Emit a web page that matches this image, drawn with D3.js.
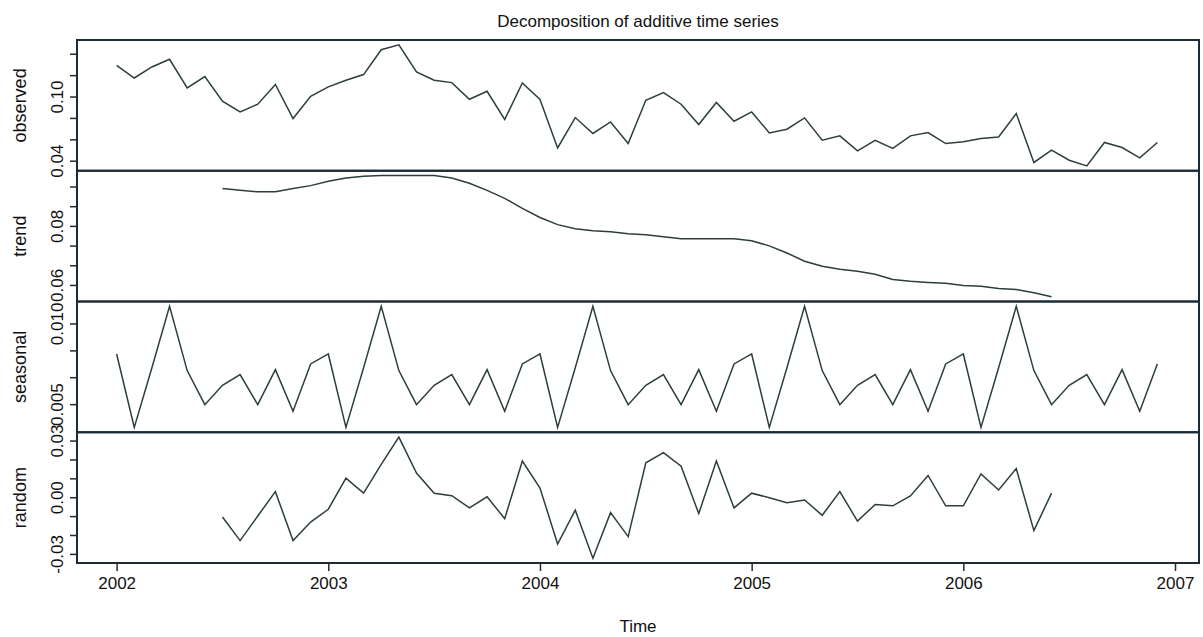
<!DOCTYPE html>
<html>
<head>
<meta charset="utf-8">
<script src="https://cdn.jsdelivr.net/npm/d3@7"></script>
<style>
  body { margin: 0; background: #fff; }
  svg text { font-family: "Liberation Sans", Arial, sans-serif; fill: #111; }
  .series { fill: none; stroke: #2c3e3e; stroke-width: 1.5; }
  .frame { fill: none; stroke: #1d2b36; stroke-width: 2; }
  .axis path { display: none; }
  .axis line { stroke: #1d2b36; stroke-width: 1.5; }
</style>
</head>
<body>
<svg id="chart" width="1203" height="637"></svg>
<script>
// monthly series, Jan 2002 .. Dec 2006
var startYear = 2002, freq = 12;
var yearTicks = [2002, 2003, 2004, 2005, 2006, 2007];

var observed = [
  0.1297, 0.1178, 0.1281, 0.1353, 0.1085, 0.1192, 0.0961, 0.0861, 0.0933, 0.1117, 0.0799, 0.1007,
  0.1095, 0.1157, 0.1210, 0.1442, 0.1488, 0.1235, 0.1157, 0.1135, 0.0979, 0.1054, 0.0790, 0.1132,
  0.0977, 0.0524, 0.0808, 0.0659, 0.0767, 0.0565, 0.0970, 0.1042, 0.0933, 0.0743, 0.0949, 0.0774,
  0.0861, 0.0665, 0.0699, 0.0805, 0.0596, 0.0637, 0.0496, 0.0596, 0.0519, 0.0637, 0.0668, 0.0565,
  0.0581, 0.0612, 0.0627, 0.0846, 0.0388, 0.0503, 0.0409, 0.0356, 0.0575, 0.0528, 0.0431, 0.0575
];
var trend = [
  null, null, null, null, null, null, 0.0928, 0.0922, 0.0917, 0.0917, 0.0928, 0.0938,
  0.0953, 0.0964, 0.0970, 0.0972, 0.0972, 0.0972, 0.0972, 0.0964, 0.0946, 0.0922, 0.0895, 0.0861,
  0.0830, 0.0806, 0.0792, 0.0785, 0.0782, 0.0775, 0.0772, 0.0765, 0.0758, 0.0758, 0.0758, 0.0758,
  0.0751, 0.0734, 0.0710, 0.0682, 0.0665, 0.0655, 0.0648, 0.0638, 0.0620, 0.0614, 0.0610, 0.0607,
  0.0600, 0.0597, 0.0590, 0.0586, 0.0575, 0.0562, null, null, null, null, null, null
];
var seasonal = [
  0.00814, 0.00359, 0.00729, 0.01109, 0.00711, 0.00500, 0.00620, 0.00686, 0.00500, 0.00717, 0.00459, 0.00752,
  0.00814, 0.00359, 0.00729, 0.01109, 0.00711, 0.00500, 0.00620, 0.00686, 0.00500, 0.00717, 0.00459, 0.00752,
  0.00814, 0.00359, 0.00729, 0.01109, 0.00711, 0.00500, 0.00620, 0.00686, 0.00500, 0.00717, 0.00459, 0.00752,
  0.00814, 0.00359, 0.00729, 0.01109, 0.00711, 0.00500, 0.00620, 0.00686, 0.00500, 0.00717, 0.00459, 0.00752,
  0.00814, 0.00359, 0.00729, 0.01109, 0.00711, 0.00500, 0.00620, 0.00686, 0.00500, 0.00717, 0.00459, 0.00752
];
var random = [
  null, null, null, null, null, null, -0.0102, -0.0227, -0.0097, 0.0032, -0.0227, -0.0129,
  -0.0061, 0.0104, 0.0024, 0.0176, 0.0321, 0.0131, 0.0024, 0.0011, -0.0054, 0.0005, -0.0111, 0.0194,
  0.0051, -0.0245, -0.0066, -0.0320, -0.0079, -0.0206, 0.0185, 0.0239, 0.0167, -0.0084, 0.0194, -0.0054,
  0.0024, 0.0000, -0.0027, -0.0012, -0.0093, 0.0032, -0.0124, -0.0036, -0.0043, 0.0009, 0.0118, -0.0043,
  -0.0043, 0.0126, 0.0041, 0.0154, -0.0174, 0.0024, null, null, null, null, null, null
];

// tick values per panel, and which of them get a label
var obsTicks = [0.04, 0.06, 0.08, 0.10, 0.12, 0.14],   obsLabels = ["0.04", "0.10"];
var trendTicks = [0.06, 0.06667, 0.07333, 0.08, 0.08667, 0.09333], trendLabels = ["0.06", "0.08"];
var seasTicks = [0.005, 0.00667, 0.00833, 0.010],      seasLabels = ["0.005", "0.010"];
var randTicks = [-0.03, -0.02, -0.01, 0.00, 0.01, 0.02, 0.03], randLabels = ["-0.03", "0.00", "0.03"];

function fmtR(spec) {
  // d3 gives a unicode minus, R prints a plain hyphen
  var f = d3.format(spec);
  return function(v) { return f(v).replace("\u2212", "-"); };
}

function drawChart() {
  var panels = [
    {name: "observed", values: observed, ticks: obsTicks,   labels: obsLabels,   fmt: fmtR(".2f")},
    {name: "trend",    values: trend,    ticks: trendTicks, labels: trendLabels, fmt: fmtR(".2f")},
    {name: "seasonal", values: seasonal, ticks: seasTicks,  labels: seasLabels,  fmt: fmtR(".3f")},
    {name: "random",   values: random,   ticks: randTicks,  labels: randLabels,  fmt: fmtR(".2f")}
  ];

  var svg = d3.select("#chart");
  var m = {left: 77, right: 1199, top: 40, bottom: 563};
  var ph = (m.bottom - m.top) / panels.length;

  // R style 4% padding on each side
  function pad(ext) {
    var r = ext[1] - ext[0];
    return [ext[0] - 0.04 * r, ext[1] + 0.04 * r];
  }

  var times = observed.map(function(d, i) { return startYear + i / freq; });
  var x = d3.scaleLinear().domain(pad(d3.extent(times))).range([m.left - 2, m.right]);

  svg.append("text")
    .attr("x", (m.left + m.right) / 2).attr("y", 27)
    .attr("text-anchor", "middle")
    .style("font-size", "17px")
    .text("Decomposition of additive time series");

  panels.forEach(function(p, k) {
    var y0 = m.top + k * ph, y1 = y0 + ph;
    var y = d3.scaleLinear()
      .domain(pad(d3.extent(p.values.filter(function(v) { return v !== null; }))))
      .range([y1, y0]);

    var line = d3.line()
      .defined(function(d) { return d !== null; })
      .x(function(d, i) { return x(times[i]); })
      .y(function(d) { return y(d); });

    svg.append("path")
      .datum(p.values)
      .attr("class", "series")
      .attr("d", line);

    var ax = svg.append("g")
      .attr("class", "axis")
      .attr("transform", "translate(" + m.left + ",0)")
      .call(d3.axisLeft(y).tickValues(p.ticks).tickSize(7)
        .tickFormat(function(v) {
          var s = p.fmt(v);
          return p.labels.indexOf(s) >= 0 ? s : "";
        }));
    // put the tick labels on their side, like R does
    ax.selectAll(".tick").attr("transform", null);
    ax.selectAll(".tick line")
      .attr("y1", function(v) { return y(v); })
      .attr("y2", function(v) { return y(v); });
    ax.selectAll(".tick text")
      .attr("transform", "rotate(-90)")
      .attr("x", function(v) { return -y(v); })
      .attr("y", -14)
      .attr("dy", 0)
      .attr("text-anchor", "middle")
      .style("font-size", "17px");

    svg.append("text")
      .attr("transform", "translate(26," + (y0 + ph / 2) + ") rotate(-90)")
      .attr("text-anchor", "middle")
      .style("font-size", "18px")
      .text(p.name);

    svg.append("rect")
      .attr("class", "frame")
      .attr("x", m.left).attr("y", y0)
      .attr("width", m.right - m.left).attr("height", ph);
  });

  var xa = svg.append("g")
    .attr("class", "axis")
    .attr("transform", "translate(0," + m.bottom + ")")
    .call(d3.axisBottom(x).tickValues(yearTicks).tickSize(8).tickFormat(d3.format("d")));
  xa.selectAll("text")
    .attr("y", 14)
    .attr("dy", "0.71em")
    .style("font-size", "17px");

  svg.append("text")
    .attr("x", (m.left + m.right) / 2).attr("y", 632)
    .attr("text-anchor", "middle")
    .style("font-size", "17px")
    .text("Time");
}

drawChart();
</script>
</body>
</html>
